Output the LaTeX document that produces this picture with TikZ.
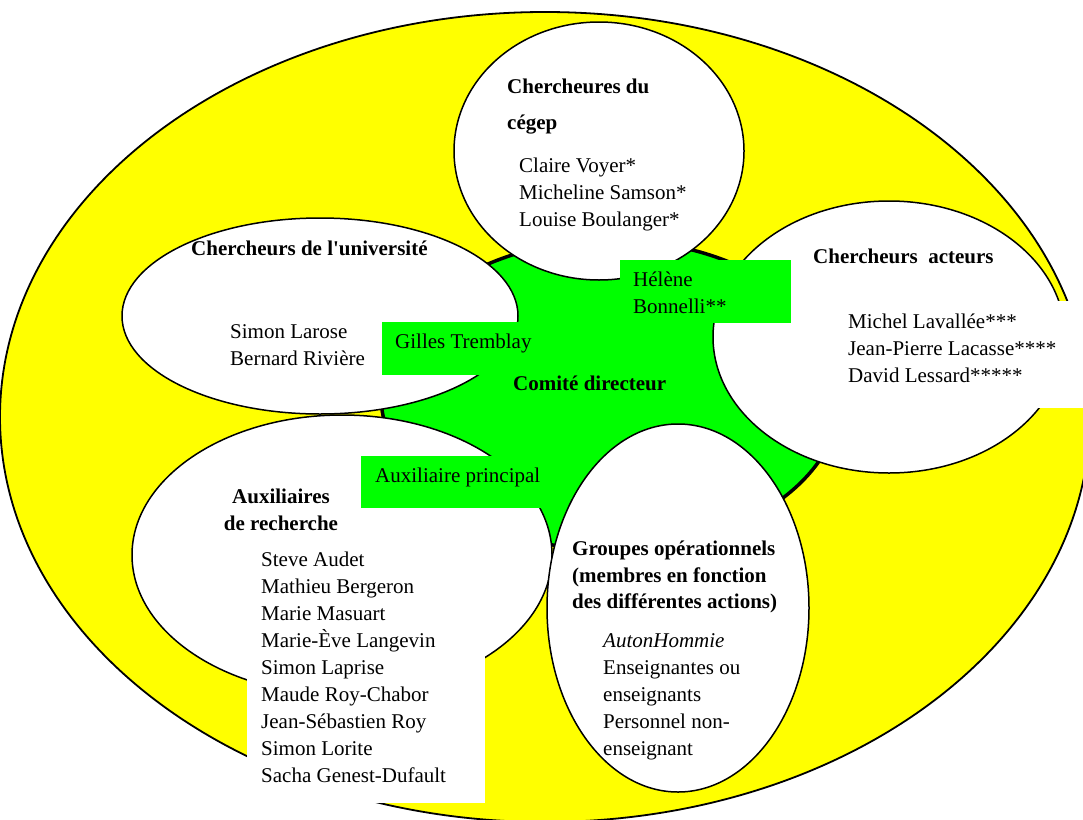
\documentclass[tikz,border=0pt]{standalone}
\usepackage{fontspec}
\setmainfont{Liberation Serif}
\usetikzlibrary{shapes.geometric}
\definecolor{yel}{HTML}{FFFF00}
\definecolor{grn}{HTML}{00FF00}
\newcommand\textlines[4]{%
  \foreach \t [count=\i] in {#4} {\node[txt] (#1-\i) at (#2, {#3+27*(\i-1)}) {\t};}}
\begin{document}
\begin{tikzpicture}[x=1pt,y=-1pt,
  txt/.style={font=\fontsize{21}{27}\selectfont, inner sep=0pt, anchor=base west},
  hd/.style={font=\fontsize{21}{27}\selectfont\bfseries, inner sep=0pt, anchor=base west},
  oval/.style={ellipse, draw=black, fill=white, line width=1.5pt, inner sep=0pt},
  greenbox/.style={fill=grn, draw=none, inner sep=0pt, anchor=north west},
  whitebox/.style={fill=white, draw=none, inner sep=0pt, anchor=north west}]
\useasboundingbox (0,0) rectangle (1083,819);
% outer yellow ellipse
\node[ellipse, draw=black, fill=yel, line width=1.8pt, minimum width=1090pt, minimum height=810pt] (outer) at (545,417) {};
% central green ellipse
\node[ellipse, draw=black, fill=grn, line width=3.5pt, minimum width=460pt, minimum height=310pt] (comite) at (611,395) {};
% white ellipses
\node[oval, minimum width=290pt, minimum height=258pt] (cegep) at (599,151) {};
\node[oval, minimum width=396pt, minimum height=196pt] (univ) at (320,316) {};
\node[oval, minimum width=352pt, minimum height=272pt] (acteurs) at (889,337) {};
\node[oval, minimum width=420pt, minimum height=280pt] (aux) at (342,555) {};
\node[oval, minimum width=262pt, minimum height=368pt] (groupes) at (678,608) {};
% white text boxes
\node[whitebox, minimum width=253pt, minimum height=107pt] (actbox) at (830,301) {};
\node[whitebox, minimum width=238pt, minimum height=263pt] (auxbox) at (247,540) {};
% green label boxes
\node[greenbox, minimum width=171pt, minimum height=63pt] (hbox) at (620,260) {};
\node[greenbox, minimum width=158pt, minimum height=53pt] (gbox) at (382,322) {};
\node[greenbox, minimum width=187pt, minimum height=52pt] (abox) at (361,456) {};
% texts
\node[hd] (cegep-h1) at (507,93) {Chercheures du};
\node[hd] (cegep-h2) at (507,129) {cégep};
\textlines{cegep-n}{519}{172}{Claire Voyer*, Micheline Samson*, Louise Boulanger*}
\node[hd] (univ-h) at (191,255) {Chercheurs de l\textquotesingle université};
\textlines{univ-n}{230}{338}{Simon Larose, Bernard Rivière}
\node[txt] (gilles) at (395,348) {Gilles Tremblay};
\textlines{helene}{633}{286}{Hélène, Bonnelli**}
\node[hd] (comite-t) at (513,390) {Comité directeur};
\node[txt] (auxp) at (375,482) {Auxiliaire principal};
\node[hd] (act-h) at (813,263) {Chercheurs\ \ acteurs};
\textlines{act-n}{848}{328}{Michel Lavallée***, Jean-Pierre Lacasse****, David Lessard*****}
\node[hd, anchor=base] (aux-h1) at (281,503) {Auxiliaires};
\node[hd, anchor=base] (aux-h2) at (281,530) {de recherche};
\textlines{aux-n}{261}{566}{Steve Audet, Mathieu Bergeron, Marie Masuart, Marie-Ève Langevin, Simon Laprise, Maude Roy-Chabor, Jean-Sébastien Roy, Simon Lorite, Sacha Genest-Dufault}
\node[hd] (grp-h1) at (572,555) {Groupes opérationnels};
\node[hd] (grp-h2) at (572,582) {(membres en fonction};
\node[hd] (grp-h3) at (572,608) {des différentes actions)};
\node[txt] (grp-n0) at (603,647) {\itshape AutonHommie};
\textlines{grp-n}{603}{674}{Enseignantes ou, enseignants, Personnel non-, enseignant}
\end{tikzpicture}
\end{document}
